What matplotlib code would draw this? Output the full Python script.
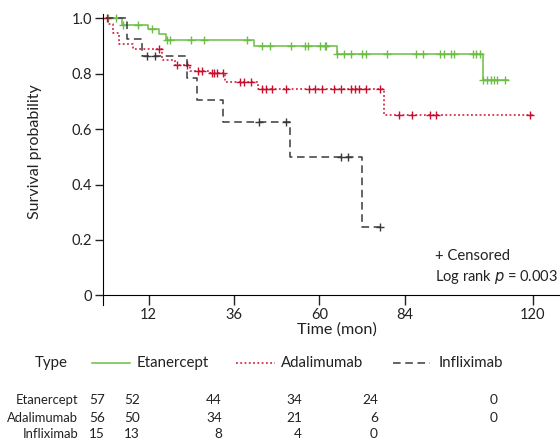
import numpy as np
import matplotlib.pyplot as plt
from matplotlib.lines import Line2D

plt.rcParams['font.family'] = ['Lato', 'DejaVu Sans']

# Kaplan-Meier steps (time in months, survival probability)
eta_t = [0, 4.6, 11.9, 14.9, 16.9, 41.7, 65, 106.1, 113]
eta_s = [1.0, 0.977, 0.960, 0.942, 0.923, 0.899, 0.872, 0.776, 0.776]
eta_cens = [0.6, 2.8, 4.9, 8.9, 12.8, 17.1, 18, 23.9, 27.7, 39.8, 43.9, 46,
            52.1, 55.9, 56.7, 60.1, 61.7, 62, 65, 67, 69, 72, 73.2, 78.9,
            87.2, 89.1, 93.9, 95, 97.1, 98, 103.1, 104.1, 105.2, 106.1,
            107.2, 108.2, 109.1, 110, 112.1]

ada_t = [0, 0.5, 2, 3.7, 7.7, 15.8, 19.4, 23.7, 29.3, 33.5, 42.7, 78.3, 120]
ada_s = [1.0, 0.98, 0.946, 0.907, 0.89, 0.848, 0.832, 0.811, 0.801, 0.771,
         0.744, 0.651, 0.651]
ada_cens = [0.4, 14.9, 20.1, 22.7, 26, 26.9, 29.8, 30.5, 31.2, 32.8, 37.7,
            38.7, 40.8, 43.9, 45, 46.7, 50.7, 57, 58.9, 60.8, 64, 66.1, 68.9,
            69.9, 71.1, 73.2, 77, 82.3, 86, 91.1, 92.9, 119.2]

inf_t = [0, 5.8, 10, 22.7, 25.5, 32.9, 51.8, 72, 77.4]
inf_s = [1.0, 0.926, 0.865, 0.783, 0.706, 0.627, 0.5, 0.245, 0.245]
inf_cens = [11.6, 13.8, 42.9, 50.7, 66.1, 68.1, 77]

# number at risk
risk_names = ['Etanercept', 'Adalimumab', 'Infliximab']
risk_eta = [57, 52, 44, 34, 24, 0]
risk_ada = [56, 50, 34, 21, 6, 0]
risk_inf = [15, 13, 8, 4, 0]

xticks = [12, 36, 60, 84, 120]

green = '#6cbd45'
red = '#c8102e'
black = '#3a3a3a'
txt = '#222222'

W, H = 560, 441
fig = plt.figure(figsize=(W / 100, H / 100), dpi=100)
ax = fig.add_axes([103.3 / W, 1 - 305 / H, 1 - 103.3 / W, (305 - 14) / H])


def km(ax, t, s, cens, color, ls):
    t = np.array(t)
    s = np.array(s)
    ax.step(t, s, where='post', color=color, lw=1.1, linestyle=ls)
    c = np.array(cens)
    idx = np.searchsorted(t, c, side='right') - 1
    ax.plot(c, s[idx], '+', color=color, ms=6, mew=1.0)


km(ax, eta_t, eta_s, eta_cens, green, '-')
km(ax, ada_t, ada_s, ada_cens, red, (0, (1.2, 1.6)))
km(ax, inf_t, inf_s, inf_cens, black, (0, (5, 3)))

ax.set_xlim(-0.76, 127.7)
ax.set_ylim(-0.035, 1.0155)
ax.spines['top'].set_visible(False)
ax.spines['right'].set_visible(False)
ax.spines['bottom'].set_position(('data', 0))
ax.set_xticks(xticks)
ax.set_yticks([0, 0.2, 0.4, 0.6, 0.8, 1.0])
ax.set_yticklabels(['0', '0.2', '0.4', '0.6', '0.8', '1.0'])
ax.tick_params(direction='out', length=6, width=1, labelsize=10.5, pad=2,
               colors=txt)
ax.tick_params(axis='x', length=7)

fig.text(35 / W, 1 - 152 / H, 'Survival probability', rotation=90,
         ha='center', va='center', fontsize=11.5, color=txt)
fig.text(337 / W, 1 - 330 / H, 'Time (mon)', ha='center', va='center',
         fontsize=11.7, color=txt)

fig.text(435 / W, 1 - 256 / H, '+ Censored', ha='left', va='center',
         fontsize=10.7, color=txt)
fig.text(435 / W, 1 - 277 / H, 'Log rank $\\it{p}$ = 0.003', ha='left',
         va='center', fontsize=10.5, color=txt)

# legend row
ly = 1 - 363 / H
fig.text(35 / W, ly, 'Type', ha='left', va='center', fontsize=10.8,
         color=txt)
leg = [(92, 130, 137, green, '-', 'Etanercept'),
       (236, 275, 281, red, (0, (1.2, 1.6)), 'Adalimumab'),
       (393, 430, 439, black, (0, (5, 3)), 'Infliximab')]
for x0, x1, xt, col, ls, lab in leg:
    fig.add_artist(Line2D([x0 / W, x1 / W], [ly, ly], color=col, lw=1.1,
                          linestyle=ls, transform=fig.transFigure))
    fig.text(xt / W, ly, lab, ha='left', va='center', fontsize=10.8,
             color=txt)

# number at risk table
col_x = [105, 140, 222, 302, 378, 498]
row_y = [400, 417.5, 434.5]
for name, vals, y in zip(risk_names, [risk_eta, risk_ada, risk_inf], row_y):
    fig.text(78 / W, 1 - y / H, name, ha='right', va='center', fontsize=9.4,
             color=txt)
    for v, x in zip(vals, col_x):
        fig.text(x / W, 1 - y / H, str(v), ha='right', va='center',
                 fontsize=9.8, color=txt)

fig.savefig('out.png', dpi=100)
